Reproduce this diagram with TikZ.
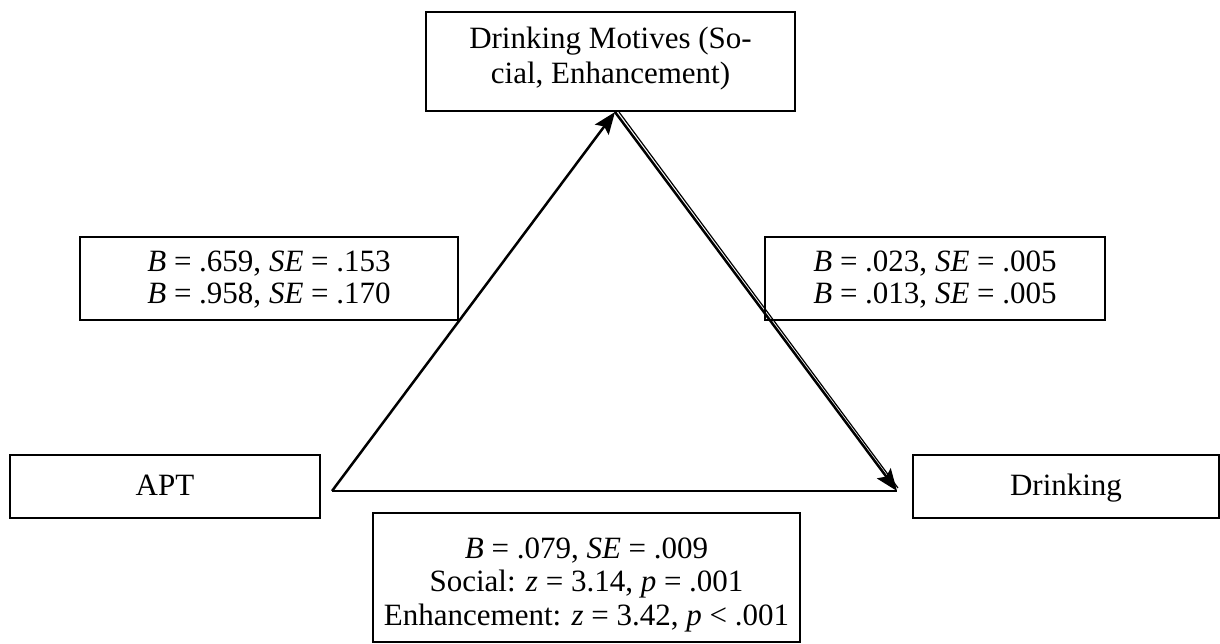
\documentclass[tikz,border=0pt]{standalone}
\usepackage{fontspec}
\setmainfont{Liberation Serif}
\usetikzlibrary{arrows.meta}
\newcommand{\tbox}[4]{\parbox[c][#2][t]{#1}{\centering\fontsize{31}{#3}\selectfont #4\par}}
\begin{document}
\begin{tikzpicture}[x=1pt,y=-1pt,
  box/.style={draw=black,line width=1.9pt,inner sep=0pt},
  conn/.style={line width=2.5pt,draw=black},
  tip/.style={-{Stealth[length=22pt,width=17pt,inset=4pt]}}]
\useasboundingbox (0,0) rectangle (1220,643);
% boxes
\node[box] (mot) at (610.5,61.5)
  {\tbox{369pt}{99pt}{35pt}{\rule{0pt}{36pt}Drinking Motives (So-\\cial, Enhancement)}};
\node[box] (la) at (269,278.5)
  {\tbox{378pt}{83pt}{32pt}{\rule{0pt}{34pt}\textit{B} = .659, \textit{SE} = .153\\\textit{B} = .958, \textit{SE} = .170}};
\node[box] (lb) at (935,278.5)
  {\tbox{340pt}{83pt}{32pt}{\rule{0pt}{34pt}\textit{B} = .023, \textit{SE} = .005\\\textit{B} = .013, \textit{SE} = .005}};
\node[box] (apt) at (165,486.5)
  {\tbox{310pt}{63pt}{34pt}{\rule{0pt}{40pt}APT}};
\node[box] (drk) at (1066,486.5)
  {\tbox{306pt}{63pt}{34pt}{\rule{0pt}{40pt}Drinking}};
\node[box] (lc) at (586.5,577.5)
  {\tbox{427pt}{129pt}{33.5pt}{\rule{0pt}{45pt}\textit{B} = .079, \textit{SE} = .009\\Social: \textit{z} = 3.14, \textit{p} = .001\\Enhancement: \textit{z} = 3.42, \textit{p} < .001}};
% triangle vertices
\coordinate (vl) at (332,491);
\coordinate (vt) at (615,112);
\coordinate (vt2) at (619,112);
\coordinate (vr) at (897,491);
\coordinate (vr2) at (898,488);
% connectors
\draw[conn,tip] (vl) -- (vt);
\draw[line width=1.2pt] (vt2) -- (vr2);
\draw[conn,tip] (vt) -- (vr);
\draw[conn] (vl) -- (vr);
\end{tikzpicture}
\end{document}
